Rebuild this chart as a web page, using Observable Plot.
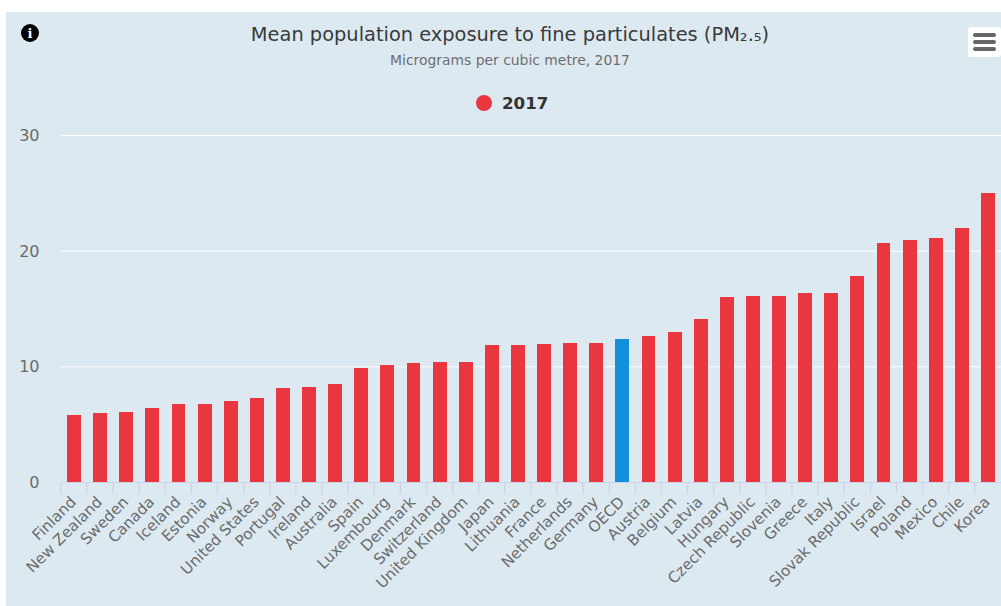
<!DOCTYPE html>
<html>
<head>
<meta charset="utf-8">
<script src="https://cdn.jsdelivr.net/npm/d3@7"></script>
<script src="https://cdn.jsdelivr.net/npm/@observablehq/plot@0.6"></script>
<style>
  html, body { margin: 0; padding: 0; background: #fff; overflow: hidden; }
  body { font-family: "DejaVu Sans", sans-serif; }
  #panel { position: absolute; left: 6px; top: 12px; width: 995px; height: 594px; background: #dde9f1; }
  #stage { position: absolute; left: 0; top: 0; width: 1001px; height: 606px; }
  #stage svg { position: absolute; left: 0; top: 0; background: transparent; }
  .centered { position: absolute; left: 10px; width: 1000px; text-align: center; white-space: nowrap; }
  #title { top: 24px; font-size: 19.4px; line-height: 22px; color: #3a3a3a; }
  #subtitle { top: 52px; font-size: 13.9px; line-height: 16px; color: #6e6e6e; }
  #legend { position: absolute; left: 476px; top: 94px; display: flex; align-items: center; font-size: 16.7px; font-weight: bold; color: #333; line-height: 18px; }
  #legend i { display: block; width: 16px; height: 16px; border-radius: 50%; background: #e9363f; margin-right: 10px; }
  #info { position: absolute; left: 21px; top: 24px; width: 18px; height: 18px; }
  #menu { position: absolute; left: 968px; top: 27px; width: 33px; height: 30px; background: #fff; border-radius: 3px; }
  #menu b { position: absolute; left: 5px; width: 23px; height: 4px; background: #666; border-radius: 2px; }
</style>
</head>
<body>
<div id="panel"></div>
<div id="stage"></div>
<div id="title" class="centered">Mean population exposure to fine particulates (PM₂.₅)</div>
<div id="subtitle" class="centered">Micrograms per cubic metre, 2017</div>
<div id="legend"><i></i><span>2017</span></div>
<svg id="info" viewBox="0 0 18 18">
  <circle cx="9" cy="9" r="9" fill="#000"></circle>
  <text x="9" y="14" text-anchor="middle" fill="#fff" font-family="DejaVu Serif" font-weight="bold" font-size="13">i</text>
</svg>
<div id="menu"><b style="top:6px"></b><b style="top:13px"></b><b style="top:20px"></b></div>
<script>
const countries = ["Finland","New Zealand","Sweden","Canada","Iceland","Estonia","Norway","United States","Portugal","Ireland","Australia","Spain","Luxembourg","Denmark","Switzerland","United Kingdom","Japan","Lithuania","France","Netherlands","Germany","OECD","Austria","Belgium","Latvia","Hungary","Czech Republic","Slovenia","Greece","Italy","Slovak Republic","Israel","Poland","Mexico","Chile","Korea"];
const values2017 = [5.8,5.95,6.05,6.4,6.75,6.75,7.0,7.3,8.1,8.2,8.45,9.85,10.1,10.3,10.4,10.4,11.85,11.85,11.9,12.0,12.0,12.4,12.6,12.95,14.1,16.0,16.1,16.1,16.35,16.35,17.8,20.7,20.9,21.1,22.0,25.0];
const yTicks = [0, 10, 20, 30];
const highlighted = "OECD";

const rows = countries.map((name, i) => ({name, value: values2017[i]}));
const step = 940 / countries.length;

const chart = Plot.plot({
  width: 1001,
  height: 606,
  marginLeft: 61,
  marginRight: 0,
  marginTop: 135,
  marginBottom: 124,
  style: {background: "transparent", fontFamily: "DejaVu Sans, sans-serif", overflow: "visible"},
  x: {domain: countries, paddingInner: 0.464, paddingOuter: 0.232, align: 0.5, round: false, label: null},
  y: {domain: [0, 30], label: null},
  marks: [
    Plot.ruleY(yTicks.filter(d => d > 0), {stroke: "#fff", strokeWidth: 1}),
    Plot.ruleX(countries, {x: d => d, y1: 0, y2: -1.05, dx: -step / 2 - 0.6, stroke: "#ccd6eb", strokeWidth: 1.4, clip: false}),
    Plot.ruleY([0], {stroke: "#ccd6eb", strokeWidth: 1}),
    Plot.barY(rows, {x: "name", y: "value", shapeRendering: "crispEdges", fill: d => d.name === highlighted ? "#1191dc" : "#e9363f"}),
    Plot.axisY({ticks: yTicks, tickSize: 0, tickPadding: 0, dx: -22, dy: 0.5, fontSize: 16, color: "#6b6b6b", label: null, textAnchor: "end"}),
    Plot.axisX({tickSize: 0, tickRotate: -45, tickPadding: 17, dx: -1, fontSize: 15.2, color: "#6b6b6b", label: null, textAnchor: "end", lineAnchor: "middle"})
  ]
});
document.getElementById("stage").appendChild(chart);
</script>
</body>
</html>
